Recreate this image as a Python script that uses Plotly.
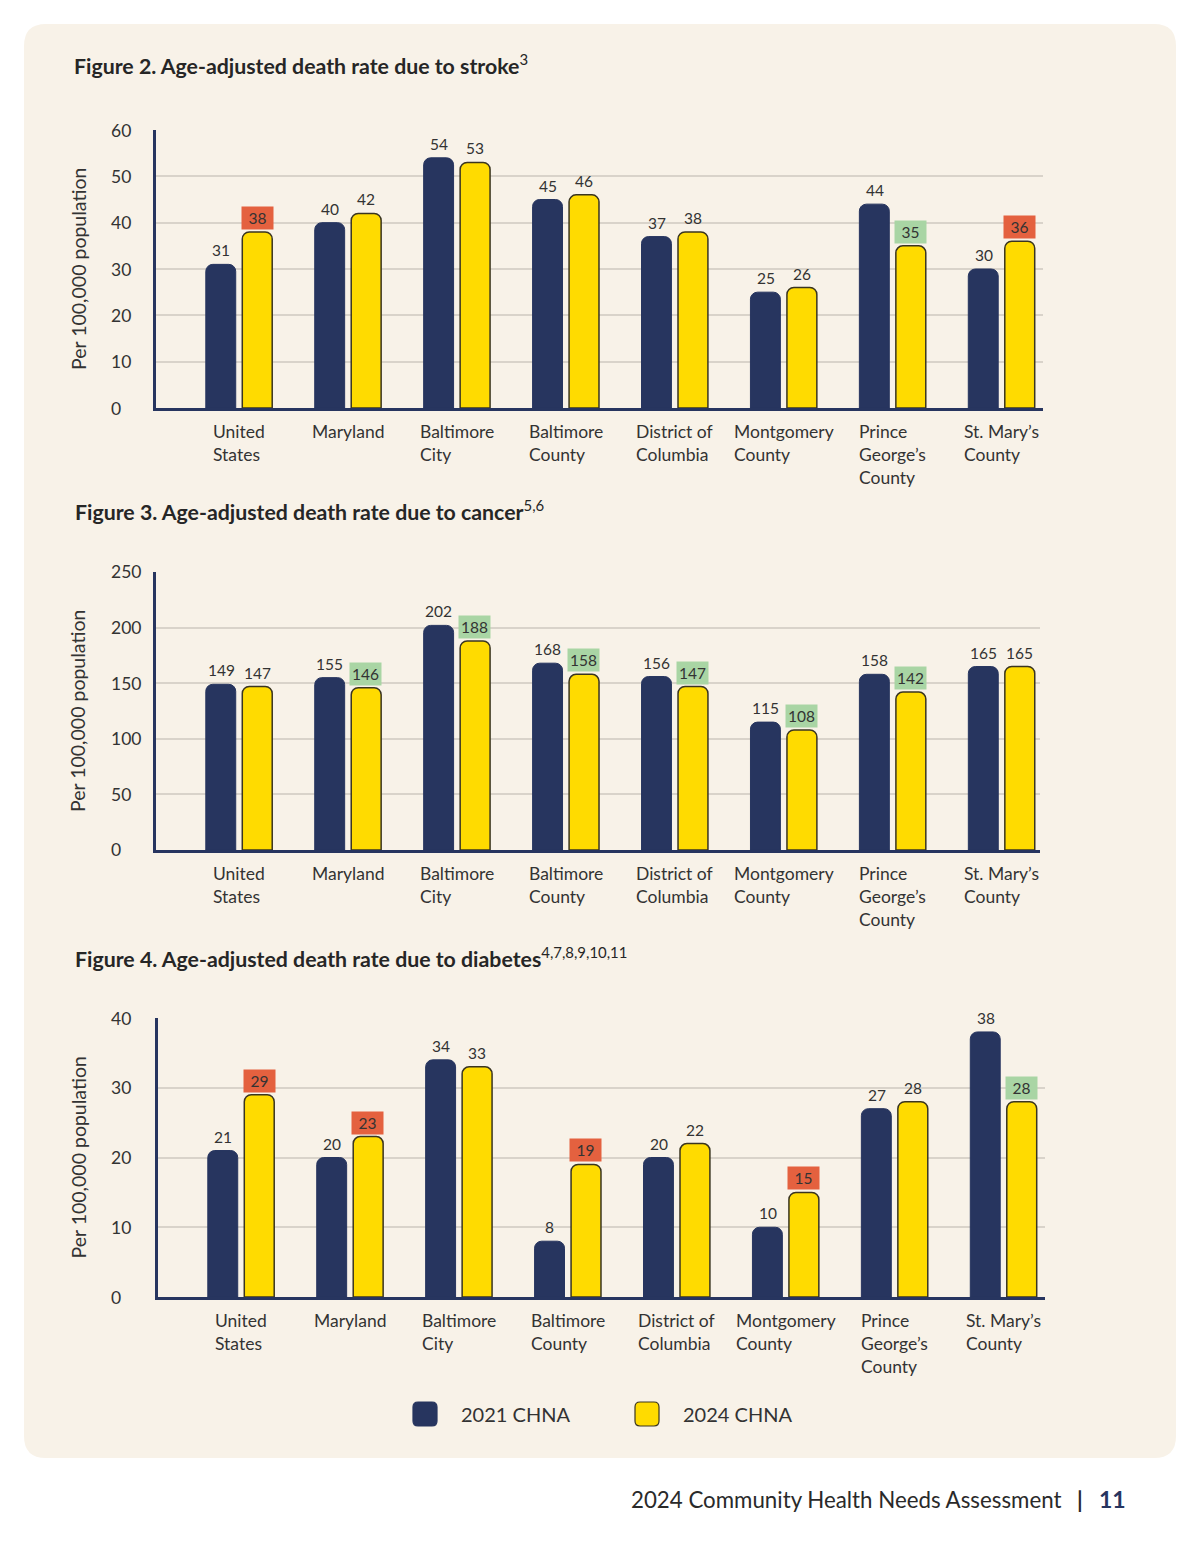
import plotly.graph_objects as go

W, H = 1200, 1553

categories = ["United States", "Maryland", "Baltimore City", "Baltimore County",
              "District of Columbia", "Montgomery County", "Prince George’s County",
              "St. Mary’s County"]
category_labels = ["United<br>States", "Maryland", "Baltimore<br>City", "Baltimore<br>County",
                   "District of<br>Columbia", "Montgomery<br>County",
                   "Prince<br>George’s<br>County", "St. Mary’s<br>County"]

series_names = ["2021 CHNA", "2024 CHNA"]

stroke_2021 = [31, 40, 54, 45, 37, 25, 44, 30]
stroke_2024 = [38, 42, 53, 46, 38, 26, 35, 36]
stroke_flags = ["worse", "", "", "", "", "", "better", "worse"]
stroke_ticks = [0, 10, 20, 30, 40, 50, 60]

cancer_2021 = [149, 155, 202, 168, 156, 115, 158, 165]
cancer_2024 = [147, 146, 188, 158, 147, 108, 142, 165]
cancer_flags = ["", "better", "better", "better", "better", "better", "better", ""]
cancer_ticks = [0, 50, 100, 150, 200, 250]

diabetes_2021 = [21, 20, 34, 8, 20, 10, 27, 38]
diabetes_2024 = [29, 23, 33, 19, 22, 15, 28, 28]
diabetes_flags = ["worse", "worse", "", "worse", "", "worse", "", "better"]
diabetes_ticks = [0, 10, 20, 30, 40]

titles = ["Figure 2. Age-adjusted death rate due to stroke",
          "Figure 3. Age-adjusted death rate due to cancer",
          "Figure 4. Age-adjusted death rate due to diabetes"]
title_notes = ["3", "5,6", "4,7,8,9,10,11"]
y_title = "Per 100,000 population"
footer_text = "2024 Community Health Needs Assessment"
page_number = "11"

NAVY = "#27355F"
YELLOW = "#FFDB00"
OUTLINE = "#3A3520"
RED = "#E4613F"
GREEN = "#A9D5A4"
PANEL = "#F8F2E8"
GRID = "#D9D3CA"
TEXT = "#333333"
FONT = "Lato"


def px(x):
    return x / W


def py(y):
    return 1 - y / H


panels = [
    dict(v21=stroke_2021, v24=stroke_2024, flags=stroke_flags, ticks=stroke_ticks,
         x0=156, x1=1043, y0=130, y1=408, title_y=64, title_x=72, xr=[-0.762, 7.381]),
    dict(v21=cancer_2021, v24=cancer_2024, flags=cancer_flags, ticks=cancer_ticks,
         x0=156, x1=1040, y0=572, y1=850, title_y=510, title_x=73, xr=[-0.762, 7.353]),
    dict(v21=diabetes_2021, v24=diabetes_2024, flags=diabetes_flags, ticks=diabetes_ticks,
         x0=158, x1=1045, y0=1018, y1=1297, title_y=957, title_x=73, xr=[-0.762, 7.381]),
]

fig = go.Figure()
annotations = []
shapes = []


def rounded(x0, y0, x1, y1, r):
    return (f"M {px(x0+r)},{py(y0)} L {px(x1-r)},{py(y0)} Q {px(x1)},{py(y0)} {px(x1)},{py(y0+r)} "
            f"L {px(x1)},{py(y1-r)} Q {px(x1)},{py(y1)} {px(x1-r)},{py(y1)} "
            f"L {px(x0+r)},{py(y1)} Q {px(x0)},{py(y1)} {px(x0)},{py(y1-r)} "
            f"L {px(x0)},{py(y0+r)} Q {px(x0)},{py(y0)} {px(x0+r)},{py(y0)} Z")


# panel background
shapes.append(dict(type="path", path=rounded(24, 24, 1176, 1458, 22), xref="paper", yref="paper",
                   fillcolor=PANEL, line=dict(width=0), layer="below"))

for i, p in enumerate(panels):
    n = "" if i == 0 else str(i + 1)
    xa, ya = "x" + n, "y" + n
    fig.add_trace(go.Bar(x=categories, y=p["v21"], name=series_names[0], xaxis=xa, yaxis=ya,
                         marker=dict(color=NAVY, line=dict(color=NAVY, width=1), cornerradius=7),
                         showlegend=False, hoverinfo="skip"))
    fig.add_trace(go.Bar(x=categories, y=p["v24"], name=series_names[1], xaxis=xa, yaxis=ya,
                         marker=dict(color=YELLOW, line=dict(color=OUTLINE, width=1.5), cornerradius=7),
                         showlegend=False, hoverinfo="skip"))
    top = p["ticks"][-1]
    fig.update_layout(**{
        "xaxis" + n: dict(domain=[px(p["x0"]), px(p["x1"])], anchor=ya, type="category",
                          range=p["xr"], showticklabels=False, showgrid=False, ticks="",
                          showline=True, linecolor=NAVY, linewidth=3, fixedrange=True),
        "yaxis" + n: dict(domain=[py(p["y1"]), py(p["y0"])], anchor=xa, range=[0, top],
                          tickvals=p["ticks"], showticklabels=False, showgrid=True,
                          gridcolor=GRID, gridwidth=1.5, zeroline=False, ticks="",
                          showline=True, linecolor=NAVY, linewidth=2.5, fixedrange=True),
    })
    # title
    annotations.append(dict(text="<b>" + titles[i] + "</b><sup>" + title_notes[i] + "</sup>",
                            xref="paper", yref="paper",
                            x=px(p["title_x"]), y=py(p["title_y"]), xanchor="left", yanchor="middle",
                            showarrow=False,
                            font=dict(family=FONT, size=21.3, color="#262626")))
    # y-axis title
    annotations.append(dict(text=y_title, xref="paper", yref="paper",
                            x=px(78), y=py((p["y0"] + p["y1"]) / 2), textangle=-90,
                            xanchor="center", yanchor="middle", showarrow=False,
                            font=dict(family=FONT, size=19.5, color=TEXT)))
    # y tick labels
    for t in p["ticks"]:
        annotations.append(dict(text=str(t), xref="paper", yref=ya, x=px(109), y=t,
                                xanchor="left", yanchor="middle", showarrow=False,
                                font=dict(family=FONT, size=17.5, color=TEXT)))
    # category labels
    for c, lab in zip(categories, category_labels):
        annotations.append(dict(text=lab, xref=xa, yref=ya, x=c, y=0, xanchor="center",
                                yanchor="top", align="left", yshift=-11, showarrow=False,
                                font=dict(family=FONT, size=17.5, color=TEXT)))
    # value labels
    for c, a, b, f in zip(categories, p["v21"], p["v24"], p["flags"]):
        annotations.append(dict(text=str(a), xref=xa, yref=ya, x=c, y=a, xshift=-18,
                                xanchor="center", yanchor="bottom", yshift=3, showarrow=False,
                                font=dict(family=FONT, size=15.5, color=TEXT)))
        ann = dict(text=str(b), xref=xa, yref=ya, x=c, y=b, xshift=18,
                   xanchor="center", yanchor="bottom", yshift=3, showarrow=False,
                   font=dict(family=FONT, size=15.5, color=TEXT))
        if f:
            ann.update(bgcolor=RED if f == "worse" else GREEN, width=29, height=20,
                       borderpad=1, yshift=2)
        annotations.append(ann)

# legend
for (lx, col, lc), name in zip([(413, NAVY, NAVY), (635, YELLOW, OUTLINE)], series_names):
    shapes.append(dict(type="path", path=rounded(lx, 1402, lx + 24, 1426, 5), xref="paper",
                       yref="paper", fillcolor=col, line=dict(color=lc, width=1.2)))
    annotations.append(dict(text=name, xref="paper", yref="paper", x=px(lx + 46), y=py(1414),
                            xanchor="left", yanchor="middle", showarrow=False,
                            font=dict(family=FONT, size=20, color=TEXT)))

# footer
annotations.append(dict(text=footer_text, xref="paper", yref="paper", x=px(1063), y=py(1499),
                        xanchor="right", yanchor="middle", showarrow=False,
                        font=dict(family=FONT, size=22.3, color="#2a2a2a")))
annotations.append(dict(text="<b>|</b>", xref="paper", yref="paper", x=px(1080), y=py(1499),
                        xanchor="center", yanchor="middle", showarrow=False,
                        font=dict(family=FONT, size=22, color="#2a2a2a")))
annotations.append(dict(text="<b>" + page_number + "</b>", xref="paper", yref="paper",
                        x=px(1128), y=py(1499), xanchor="right", yanchor="middle", showarrow=False,
                        font=dict(family=FONT, size=23, color=NAVY)))

fig.update_layout(width=W, height=H, margin=dict(l=0, r=0, t=0, b=0),
                  paper_bgcolor="white", plot_bgcolor="rgba(0,0,0,0)",
                  barmode="group", bargap=0.33, bargroupgap=0.18,
                  annotations=annotations, shapes=shapes, showlegend=False,
                  font=dict(family=FONT, color=TEXT))

fig.write_html("out.html", config={"displayModeBar": False},
               post_script="document.body.style.margin='0px';")
